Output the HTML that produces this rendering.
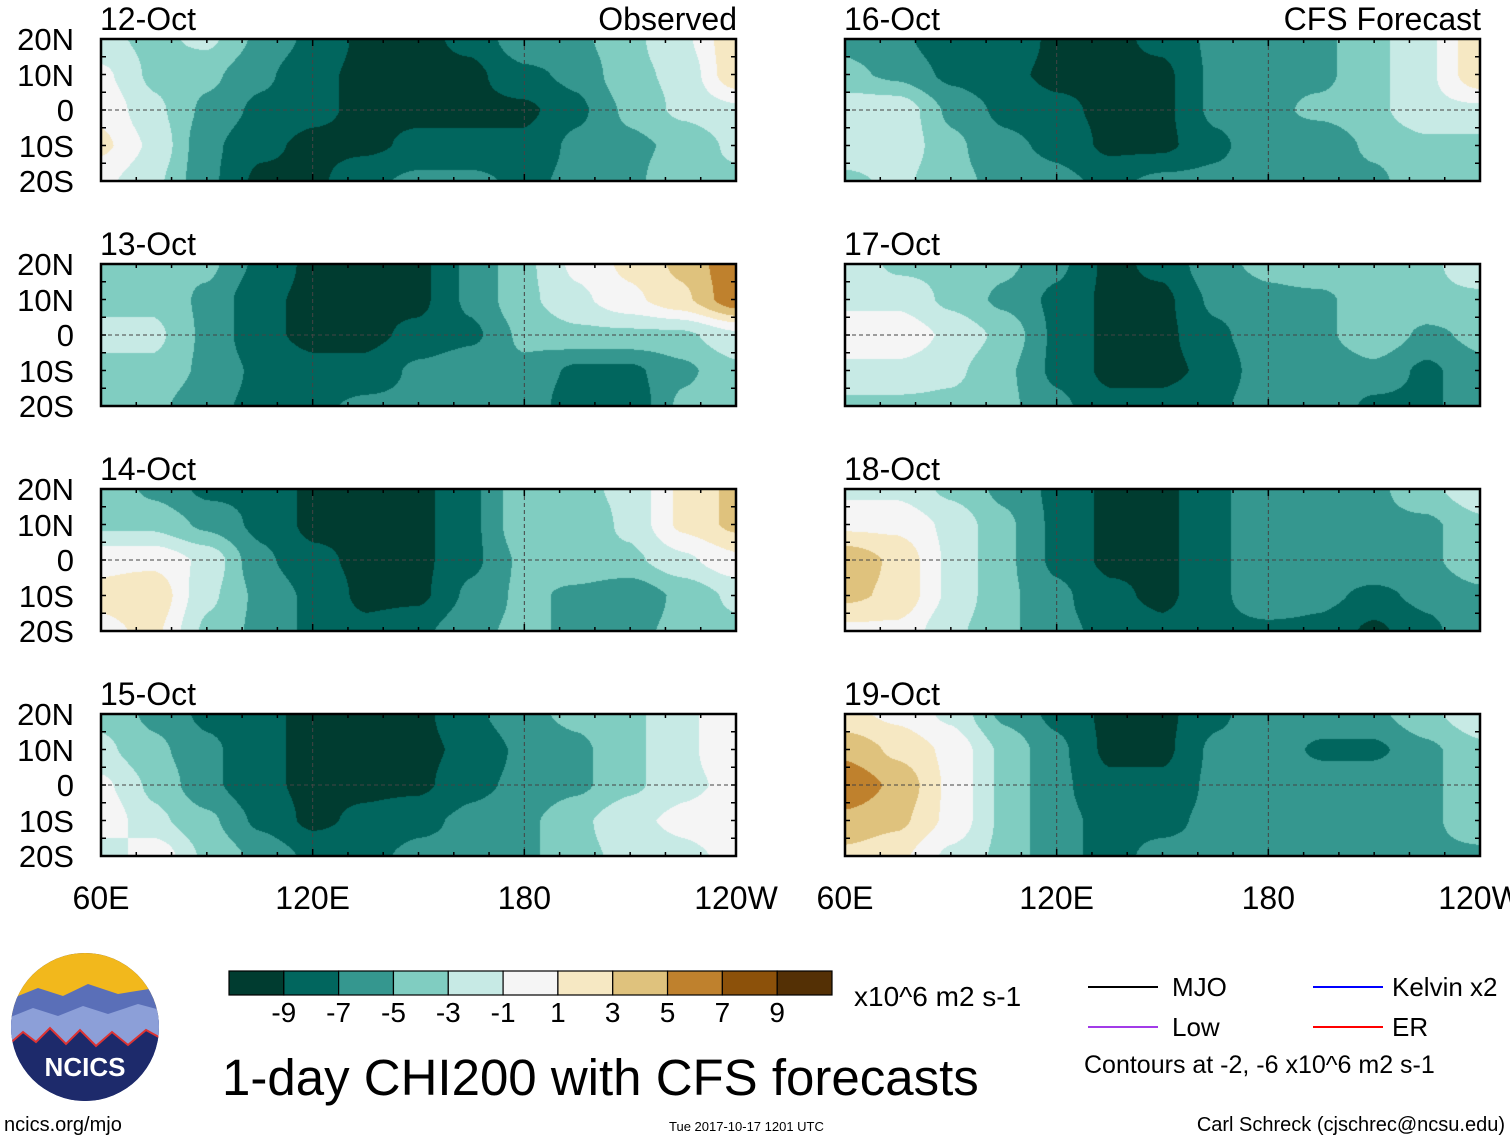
<!DOCTYPE html>
<html><head><meta charset="utf-8">
<style>
body{margin:0;background:#fff;width:1510px;height:1142px;position:relative;overflow:hidden;font-family:"Liberation Sans",sans-serif;color:#000}
.t{position:absolute;white-space:nowrap;line-height:1}
canvas{position:absolute}
</style></head><body>
<svg id="ov" width="1510" height="1142" style="position:absolute;left:0;top:0"></svg>
<div id="txt"></div>

<div class="t" style="left:854px;top:983px;font-size:28px">x10^6 m2 s-1</div>
<div class="t" style="left:222px;top:1052px;font-size:51px">1-day CHI200 with CFS forecasts</div>
<div class="t" style="left:1172px;top:974px;font-size:26px">MJO</div>
<div class="t" style="left:1392px;top:974px;font-size:26px">Kelvin x2</div>
<div class="t" style="left:1172px;top:1014px;font-size:26px">Low</div>
<div class="t" style="left:1392px;top:1014px;font-size:26px">ER</div>
<div class="t" style="left:1084px;top:1053px;font-size:25px">Contours at -2, -6 x10^6 m2 s-1</div>
<div class="t" style="left:4px;top:1115px;font-size:20px">ncics.org/mjo</div>
<div class="t" style="left:669px;top:1120px;font-size:13px">Tue 2017-10-17 1201 UTC</div>
<div class="t" style="right:5px;top:1115px;font-size:20px">Carl Schreck (cjschrec@ncsu.edu)</div>

<svg width="160" height="160" style="position:absolute;left:8px;top:950px">
<defs><clipPath id="cc"><circle cx="77" cy="77" r="74"/></clipPath></defs>
<g clip-path="url(#cc)">
<rect width="160" height="160" fill="#1d2a6b"/>
<rect width="160" height="70" fill="#f2b81c"/>
<path d="M0 50 L30 38 L55 46 L80 34 L110 44 L160 36 L160 100 L0 100Z" fill="#5a6fb8"/>
<path d="M0 68 L25 58 L50 66 L75 56 L100 64 L130 54 L160 62 L160 100 L0 100Z" fill="#8c9fd8"/>
<path d="M0 95 L15 82 L28 92 L42 78 L58 94 L72 80 L88 96 L104 82 L120 95 L138 80 L160 92 L160 160 L0 160Z" fill="#1d2a6b" stroke="#d33" stroke-width="2"/>
</g>
<text x="77" y="126" text-anchor="middle" font-family="Liberation Sans" font-weight="bold" font-size="26" fill="#fff">NCICS</text>
</svg>

<script>
const levels=[-9,-7,-5,-3,-1,1,3,5,7,9];
const colors=["#003c30","#01665e","#35978f","#80cdc1","#c7eae5","#f5f5f5","#f6e8c3","#dfc27d","#bf812d","#8c510a","#543005"];
const panelDates=["12-Oct","13-Oct","14-Oct","15-Oct","16-Oct","17-Oct","18-Oct","19-Oct"];
const lonTicks=["60E","120E","180","120W"];
const latTicks=["20N","10N","0","10S","20S"];
// values at lon 60E..240E every 15deg, rows 20N..20S
const p12=[[-2,-3,-2,-5,-7,-9,-9,-8,-5,-5,-3,-1,3],[0,-3,-4,-6,-8,-9,-9,-9,-7,-6,-3,-2,3],[1,-2,-5,-7,-8,-9,-9,-9,-9,-7,-4,-2,-1],[2,-1,-6,-8,-9,-9,-8,-8,-8,-6,-5,-4,-2],[0,-2,-6,-9,-9,-7,-6,-6,-7,-6,-5,-3,-3]];
const p13=[[-3,-4,-4,-7,-9,-9,-9,-6,-3,0,2,4,7],[-3,-3,-5,-8,-9,-9,-9,-6,-3,-1,1,3,7],[-2,-2,-5,-8,-9,-9,-8,-7,-4,-3,-3,-3,-1],[-3,-3,-5,-7,-8,-8,-6,-5,-5,-7,-7,-5,-3],[-3,-4,-6,-7,-7,-6,-6,-5,-5,-8,-8,-4,-3]];
const p14=[[-3,-5,-7,-7,-9,-9,-9,-7,-3,-3,-2,2,4],[-3,-3,-5,-7,-9,-9,-9,-7,-3,-4,-2,2,4],[1,1,-1,-6,-8,-9,-9,-7,-4,-3,-3,-1,1],[2,3,-2,-5,-7,-9,-9,-6,-4,-5,-6,-4,-2],[1,2,-3,-5,-7,-8,-7,-5,-4,-5,-5,-4,-3]];
const p15=[[-3,-5,-7,-8,-9,-9,-9,-7,-5,-4,-3,-1,1],[-2,-4,-6,-8,-9,-9,-9,-8,-6,-5,-3,-1,1],[0,-3,-6,-8,-9,-9,-9,-7,-6,-5,-3,-1,0],[1,-2,-4,-7,-9,-8,-7,-6,-5,-3,-1,0,1],[-2,1,-3,-5,-7,-7,-6,-6,-5,-3,-2,-1,0]];
const p16=[[-5,-6,-8,-7,-9,-9,-8,-6,-6,-5,-3,-1,3],[-4,-5,-7,-8,-9,-9,-9,-6,-5,-5,-3,-1,3],[-1,-1,-5,-7,-8,-9,-9,-6,-5,-4,-3,-1,-1],[-1,-1,-4,-6,-7,-9,-9,-7,-5,-6,-4,-3,-3],[-3,-2,-4,-5,-6,-7,-6,-6,-5,-6,-5,-3,-3]];
const p17=[[-1,-3,-3,-4,-6,-9,-8,-5,-4,-3,-3,-3,-1],[-1,-1,-3,-5,-7,-9,-9,-6,-5,-5,-3,-3,-3],[1,1,-1,-3,-7,-9,-9,-7,-5,-5,-3,-5,-4],[-1,-1,-2,-4,-7,-9,-9,-8,-5,-6,-5,-7,-5],[-3,-3,-3,-4,-6,-8,-8,-7,-5,-5,-7,-7,-5]];
const p18=[[-1,-1,-3,-5,-7,-9,-9,-7,-5,-5,-5,-3,-1],[1,1,-1,-4,-7,-9,-9,-7,-5,-5,-5,-5,-3],[5,3,-1,-4,-7,-9,-9,-7,-5,-5,-5,-5,-3],[4,3,-1,-4,-6,-8,-9,-7,-5,-6,-7,-6,-5],[1,1,-2,-4,-6,-7,-8,-7,-7,-7,-9,-7,-5]];
const p19=[[2,1,-1,-5,-7,-9,-9,-7,-5,-5,-5,-3,-1],[5,3,1,-3,-6,-9,-9,-6,-5,-7,-7,-5,-3],[7,5,1,-3,-6,-8,-8,-6,-5,-5,-5,-5,-3],[5,4,1,-3,-6,-7,-7,-6,-5,-5,-5,-5,-3],[3,2,-1,-3,-6,-7,-6,-6,-6,-5,-5,-5,-5]];
const fields=[p12,p13,p14,p15,p16,p17,p18,p19];

const PW=635,PH=142,colX=[101,845],rowY=[39,264,489,714];
const NS="http://www.w3.org/2000/svg";
const ov=document.getElementById('ov'),txt=document.getElementById('txt');
function hex(c){return [parseInt(c.substr(1,2),16),parseInt(c.substr(3,2),16),parseInt(c.substr(5,2),16)];}
const rgb=colors.map(hex);
function binOf(v){let i=0;while(i<levels.length&&v>=levels[i]+0.5)i++;return Math.min(i,10);}
function xOf(lon,x0){return x0+(lon-60)/180*PW;}
function yOf(lat,y0){return y0+(20-lat)/40*PH;}
function sv(tag,at){const e=document.createElementNS(NS,tag);for(const k in at)e.setAttribute(k,at[k]);ov.appendChild(e);return e;}
function label(s,x,y,fs,anchor,name){const d=document.createElement('div');d.className='t';d.textContent=s;d.style.fontSize=fs+'px';d.style.top=y+'px';
 if(anchor==='r'){d.style.right=(1510-x)+'px';}else if(anchor==='c'){d.style.left=x+'px';d.style.transform='translateX(-50%)';}else d.style.left=x+'px';
 
 
 txt.appendChild(d);}
function interp(f,u,v){
 const i=Math.min(Math.floor(u),11),j=Math.min(Math.floor(v),3);
 let a=u-i,b=v-j;a=(1-Math.cos(a*Math.PI))/2*0.6+a*0.4;b=(1-Math.cos(b*Math.PI))/2*0.6+b*0.4;
 return f[j][i]*(1-a)*(1-b)+f[j][i+1]*a*(1-b)+f[j+1][i]*(1-a)*b+f[j+1][i+1]*a*b;}

fields.forEach((f,k)=>{
 const col=k<4?0:1,row=k%4,x0=colX[col],y0=rowY[row];
 const cv=document.createElement('canvas');cv.width=PW;cv.height=PH;cv.style.left=x0+'px';cv.style.top=y0+'px';
 
 
 document.body.insertBefore(cv,ov);
 const ctx=cv.getContext('2d'),im=ctx.createImageData(PW,PH);
 for(let y=0;y<PH;y++)for(let x=0;x<PW;x++){
  const v=interp(f,x/(PW-1)*12,y/(PH-1)*4);const c=rgb[binOf(v)];const p=(y*PW+x)*4;
  im.data[p]=c[0];im.data[p+1]=c[1];im.data[p+2]=c[2];im.data[p+3]=255;}
 ctx.putImageData(im,0,0);
 const eq=sv('line',{x1:x0,x2:x0+PW,y1:yOf(0,y0),y2:yOf(0,y0),stroke:'#444','stroke-width':1,'stroke-dasharray':'4,3'});
 
 
 [120,180].forEach(l=>{const ln=sv('line',{x1:xOf(l,x0),x2:xOf(l,x0),y1:y0,y2:y0+PH,stroke:'#444','stroke-width':1,'stroke-dasharray':'4,3'});
  
  });
 const fr=sv('rect',{x:x0,y:y0,width:PW,height:PH,fill:'none',stroke:'#000','stroke-width':2.5});
 
 
 for(let l=60;l<=240;l+=10){const tx=xOf(l,x0),len=(l%60===0)?7:4;
  sv('line',{x1:tx,x2:tx,y1:y0,y2:y0+len,stroke:'#000','stroke-width':1.5});
  sv('line',{x1:tx,x2:tx,y1:y0+PH,y2:y0+PH-len,stroke:'#000','stroke-width':1.5});}
 for(let la=-20;la<=20;la+=5){const ty=yOf(la,y0);
  sv('line',{x1:x0,x2:x0+5,y1:ty,y2:ty,stroke:'#000','stroke-width':1.5});
  sv('line',{x1:x0+PW,x2:x0+PW-5,y1:ty,y2:ty,stroke:'#000','stroke-width':1.5});}
 label(panelDates[k],x0-1,y0-36,32,'l','panel-date');
 if(row===0)label(col===0?'Observed':'CFS Forecast',x0+PW+1,y0-36,32,'r','panel-source');
 if(col===0)latTicks.forEach((t,i)=>label(t,74,yOf(20-10*i,y0)-15,31,'r','lat-tick-label'));
});
[0,1].forEach(c=>lonTicks.forEach((t,i)=>label(t,xOf(60+60*i,colX[c]),882,32,'c','lon-tick-label')));

const cbX=229,cbY=971,cbW=603,cbH=24,bw=cbW/colors.length;
colors.forEach((c,i)=>{const r=sv('rect',{x:cbX+i*bw,y:cbY,width:bw,height:cbH,fill:c,stroke:'#000','stroke-width':1.2});
 
 });
levels.forEach((l,i)=>label(String(l),cbX+(i+1)*bw,999,28,'c','colorbar-tick'));
[['#000',1088,987],['#00f',1313,987],['#a23be8',1088,1027],['#f00',1313,1027]].forEach(a=>{
 const ln=sv('line',{x1:a[1],x2:a[1]+70,y1:a[2],y2:a[2],stroke:a[0],'stroke-width':2});
 
 });
</script>
</body></html>
